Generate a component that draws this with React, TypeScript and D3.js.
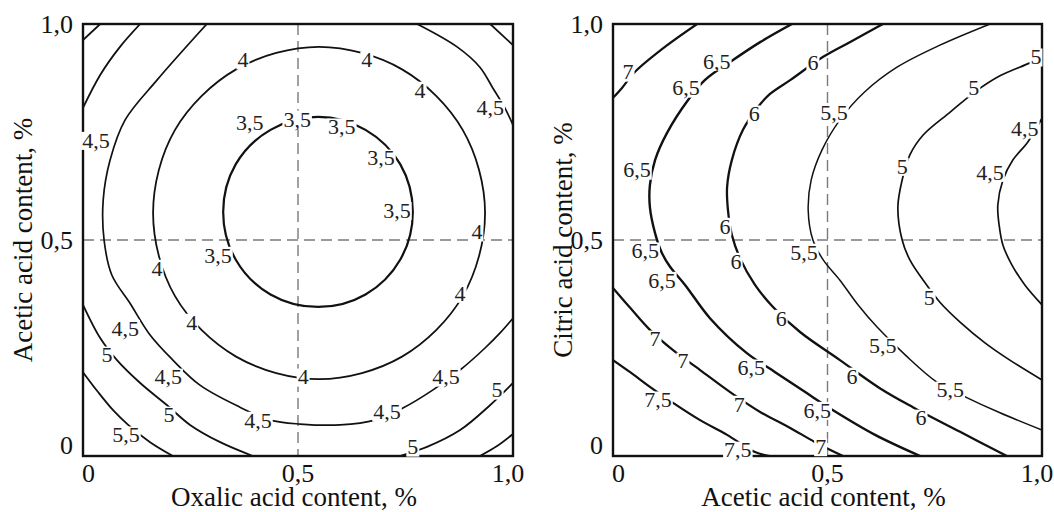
import React from "react";
import * as d3 from "d3";

type P = [number, number];
type Lab = [string, number, number];

// ---------- axes ----------
const tickValues = [0, 0.5, 1];
const tickText = ["0", "0,5", "1,0"];

const leftTitleX = "Oxalic acid content, %";
const leftTitleY = "Acetic acid content, %";
const rightTitleX = "Acetic acid content, %";
const rightTitleY = "Citric acid content, %";

// ---------- left panel contour lines (x = oxalic, y = acetic) ----------
const L35: P[] = [
  [0.767, 0.565], [0.738, 0.675], [0.657, 0.755], [0.547, 0.785], [0.436, 0.755],
  [0.355, 0.675], [0.326, 0.565], [0.355, 0.455], [0.436, 0.374], [0.547, 0.345],
  [0.657, 0.374], [0.738, 0.455],
];
const L40: P[] = [
  [0.935, 0.563], [0.883, 0.755], [0.742, 0.895], [0.549, 0.947], [0.356, 0.895],
  [0.214, 0.755], [0.163, 0.563], [0.214, 0.370], [0.356, 0.230], [0.549, 0.178],
  [0.742, 0.230], [0.883, 0.370],
];
const L45a: P[] = [
  [0.288, 1.0], [0.172, 0.870], [0.098, 0.778], [0.063, 0.685], [0.047, 0.593],
  [0.049, 0.500], [0.067, 0.419], [0.109, 0.354], [0.156, 0.280], [0.209, 0.222],
  [0.272, 0.164], [0.365, 0.113], [0.435, 0.083], [0.505, 0.074], [0.598, 0.072],
  [0.679, 0.083], [0.744, 0.111], [0.814, 0.153], [0.877, 0.199], [0.935, 0.250],
  [0.970, 0.285], [1.0, 0.319],
];
const L45b: P[] = [
  [0.777, 1.0], [0.870, 0.947], [0.923, 0.900], [0.953, 0.852], [0.981, 0.806], [1.0, 0.766],
];
const L50a: P[] = [[0, 0.806], [0.040, 0.882], [0.086, 0.947], [0.133, 1.0]];
const L50b: P[] = [
  [0, 0.350], [0.040, 0.273], [0.079, 0.222], [0.133, 0.169], [0.195, 0.118],
  [0.249, 0.072], [0.319, 0.032], [0.395, 0],
];
const L50c: P[] = [[0.737, 0], [0.800, 0.021], [0.877, 0.060], [0.947, 0.118], [1.0, 0.169]];
const L50d: P[] = [[0.947, 1.0], [1.0, 0.951]];
const L55a: P[] = [[0, 0.963], [0.040, 1.0]];
const L55b: P[] = [[0, 0.194], [0.035, 0.148], [0.070, 0.106], [0.105, 0.072], [0.156, 0.032], [0.209, 0]];
const L55c: P[] = [[0.923, 0], [0.963, 0.023], [1.0, 0.051]];

const leftLabels: Lab[] = [
  ["3,5", 0.388, 0.773], ["3,5", 0.498, 0.780], ["3,5", 0.602, 0.762], ["3,5", 0.693, 0.690],
  ["3,5", 0.730, 0.569], ["3,5", 0.314, 0.465],
  ["4", 0.372, 0.917], ["4", 0.660, 0.917], ["4", 0.784, 0.847], ["4", 0.916, 0.519],
  ["4", 0.877, 0.377], ["4", 0.512, 0.183], ["4", 0.253, 0.310], ["4", 0.172, 0.435],
  ["4,5", 0.030, 0.731], ["4,5", 0.947, 0.806], ["4,5", 0.098, 0.296], ["4,5", 0.198, 0.183],
  ["4,5", 0.407, 0.083], ["4,5", 0.707, 0.102], ["4,5", 0.844, 0.183],
  ["5", 0.056, 0.234], ["5", 0.200, 0.095], ["5", 0.767, 0.021], ["5", 0.963, 0.153],
  ["5,5", 0.100, 0.049],
];

// ---------- right panel contour lines (x = acetic, y = citric) ----------
const R75: P[] = [
  [0, 0.222], [0.040, 0.194], [0.086, 0.160], [0.140, 0.123], [0.203, 0.083],
  [0.266, 0.049], [0.331, 0.009], [0.366, 0],
];
const R70a: P[] = [
  [0, 0.389], [0.040, 0.343], [0.086, 0.292], [0.140, 0.245], [0.203, 0.199],
  [0.273, 0.148], [0.343, 0.102], [0.413, 0.065], [0.471, 0.032], [0.536, 0],
];
const R70b: P[] = [[0, 0.829], [0.021, 0.852], [0.051, 0.889], [0.121, 0.947], [0.196, 1.0]];
const R65: P[] = [
  [0.417, 1.0], [0.343, 0.958], [0.273, 0.912], [0.214, 0.870], [0.175, 0.824],
  [0.126, 0.748], [0.098, 0.685], [0.086, 0.627], [0.086, 0.576], [0.098, 0.516],
  [0.114, 0.470], [0.133, 0.438], [0.168, 0.396], [0.226, 0.319], [0.312, 0.238],
  [0.378, 0.194], [0.448, 0.148], [0.513, 0.106], [0.611, 0.049], [0.716, 0],
];
const R60: P[] = [
  [0.629, 1.0], [0.552, 0.958], [0.490, 0.924], [0.413, 0.870], [0.366, 0.838],
  [0.338, 0.808], [0.303, 0.755], [0.277, 0.685], [0.266, 0.623], [0.268, 0.569],
  [0.277, 0.512], [0.296, 0.458], [0.331, 0.396], [0.373, 0.345], [0.436, 0.287],
  [0.529, 0.222], [0.622, 0.157], [0.699, 0.113], [0.809, 0.056], [0.918, 0],
];
const R55: P[] = [
  [0.879, 1.0], [0.762, 0.951], [0.662, 0.900], [0.587, 0.843], [0.529, 0.778],
  [0.487, 0.708], [0.462, 0.639], [0.455, 0.569], [0.466, 0.500], [0.490, 0.454],
  [0.529, 0.407], [0.571, 0.350], [0.615, 0.299], [0.681, 0.234], [0.755, 0.171],
  [0.821, 0.137], [0.902, 0.100], [1.0, 0.060],
];
const R50: P[] = [
  [1.0, 0.924], [0.972, 0.910], [0.902, 0.880], [0.844, 0.843], [0.786, 0.796],
  [0.723, 0.743], [0.692, 0.697], [0.674, 0.639], [0.664, 0.576], [0.674, 0.500],
  [0.692, 0.454], [0.723, 0.407], [0.762, 0.356], [0.809, 0.310], [0.867, 0.262],
  [0.925, 0.222], [1.0, 0.176],
];
const R45: P[] = [
  [1.0, 0.782], [0.967, 0.727], [0.932, 0.685], [0.909, 0.639], [0.897, 0.581],
  [0.900, 0.535], [0.909, 0.488], [0.930, 0.442], [0.960, 0.396], [1.0, 0.350],
];

const rightLabels: Lab[] = [
  ["7", 0.035, 0.889], ["7", 0.098, 0.271], ["7", 0.163, 0.220], ["7", 0.294, 0.120], ["7", 0.484, 0.022],
  ["7,5", 0.105, 0.130], ["7,5", 0.291, 0.014],
  ["6,5", 0.242, 0.914], ["6,5", 0.170, 0.852], ["6,5", 0.056, 0.662], ["6,5", 0.075, 0.475],
  ["6,5", 0.114, 0.407], ["6,5", 0.322, 0.204], ["6,5", 0.476, 0.106],
  ["6", 0.466, 0.910], ["6", 0.329, 0.792], ["6", 0.261, 0.532], ["6", 0.287, 0.451],
  ["6", 0.392, 0.319], ["6", 0.557, 0.185], ["6", 0.718, 0.088],
  ["5,5", 0.515, 0.794], ["5,5", 0.445, 0.472], ["5,5", 0.629, 0.255], ["5,5", 0.786, 0.153],
  ["5", 0.986, 0.924], ["5", 0.841, 0.852], ["5", 0.674, 0.671], ["5", 0.737, 0.368],
  ["4,5", 0.960, 0.757], ["4,5", 0.879, 0.657],
];

type Seg = { pts: P[]; closed?: boolean; w: number };

const leftSegments: Seg[] = [
  { pts: L35, closed: true, w: 2.2 },
  { pts: L40, closed: true, w: 1.8 },
  { pts: L45a, w: 1.7 }, { pts: L45b, w: 1.7 },
  { pts: L50a, w: 1.8 }, { pts: L50b, w: 1.8 }, { pts: L50c, w: 1.8 }, { pts: L50d, w: 1.8 },
  { pts: L55a, w: 1.8 }, { pts: L55b, w: 1.8 }, { pts: L55c, w: 1.8 },
];
const rightSegments: Seg[] = [
  { pts: R75, w: 2.2 }, { pts: R70a, w: 2.2 }, { pts: R70b, w: 2.2 },
  { pts: R65, w: 2.4 }, { pts: R60, w: 2.3 }, { pts: R55, w: 1.5 },
  { pts: R50, w: 1.7 }, { pts: R45, w: 1.7 },
];

const FONT = "'Liberation Serif', 'Times New Roman', Times, serif";
const LABEL_FS = 22;
const TICK_FS = 26;
const TITLE_FS = 27;

function textW(s: string, fs: number) {
  let w = 0;
  for (const c of s) w += c === "," ? 0.25 : 0.5;
  return w * fs;
}

function Panel(props: {
  id: string;
  left: number;
  right: number;
  segments: Seg[];
  labels: Lab[];
  titleX: string;
  titleY: string;
  titleYx: number;
}) {
  const { id, left, right, segments, labels, titleX, titleY, titleYx } = props;
  const top = 24;
  const bottom = 456;
  const x = d3.scaleLinear().domain([0, 1]).range([left, right]);
  const y = d3.scaleLinear().domain([0, 1]).range([bottom, top]);
  const open = d3.line<P>().x((d) => x(d[0])).y((d) => y(d[1])).curve(d3.curveCatmullRom.alpha(0.5));
  const closed = d3.line<P>().x((d) => x(d[0])).y((d) => y(d[1])).curve(d3.curveCatmullRomClosed.alpha(0.5));
  return (
    <g>
      <defs>
        <clipPath id={id}>
          <rect x={left} y={top} width={right - left} height={bottom - top} />
        </clipPath>
      </defs>
      {/* dashed reference lines */}
      <line x1={x(0.5)} x2={x(0.5)} y1={top} y2={bottom} stroke="#7a7a7a" strokeWidth={1.4} strokeDasharray="11,6" />
      <line x1={left} x2={right} y1={y(0.5)} y2={y(0.5)} stroke="#7a7a7a" strokeWidth={1.4} strokeDasharray="11,6" />
      {/* contours */}
      <g clipPath={`url(#${id})`}>
        {segments.map((s, i) => (
          <path key={i} d={(s.closed ? closed : open)(s.pts) || ""} fill="none" stroke="#111" strokeWidth={s.w} />
        ))}
      </g>
      {/* frame */}
      <rect x={left} y={top} width={right - left} height={bottom - top} fill="none" stroke="#111" strokeWidth={2.4} />
      {/* contour labels */}
      {labels.map((l, i) => {
        const cx = x(l[1]);
        const cy = y(l[2]);
        const w = textW(l[0], LABEL_FS);
        return (
          <g key={i}>
            <rect x={cx - w / 2 - 1} y={cy - 0.38 * LABEL_FS} width={w + 2} height={0.82 * LABEL_FS} fill="#fff" />
            <text x={cx} y={cy + 0.34 * LABEL_FS} textAnchor="middle" fontSize={LABEL_FS} fontFamily={FONT} fill="#222">
              {l[0]}
            </text>
          </g>
        );
      })}
      {/* x tick labels */}
      {tickValues.map((v, i) => (
        <text
          key={"x" + i}
          x={i === 0 ? x(v) - 1 : i === 2 ? x(v) - 5 : x(v)}
          y={482}
          textAnchor={i === 0 ? "start" : "middle"}
          fontSize={TICK_FS}
          fontFamily={FONT}
          fill="#111"
        >
          {tickText[i]}
        </text>
      ))}
      {/* y tick labels */}
      {tickValues.map((v, i) => (
        <text
          key={"y" + i}
          x={left - 10}
          y={Math.min(y(v) + 9, 454)}
          textAnchor="end"
          fontSize={TICK_FS}
          fontFamily={FONT}
          fill="#111"
        >
          {tickText[i]}
        </text>
      ))}
      {/* titles */}
      <text x={(left + right) / 2 - 4} y={506} textAnchor="middle" fontSize={TITLE_FS} fontFamily={FONT} fill="#111">
        {titleX}
      </text>
      <text
        transform={`translate(${titleYx},${(top + bottom) / 2}) rotate(-90)`}
        textAnchor="middle"
        fontSize={TITLE_FS}
        fontFamily={FONT}
        fill="#111"
      >
        {titleY}
      </text>
    </g>
  );
}

export default function App() {
  return (
    <svg
      width={1054}
      height={512}
      style={{ position: "absolute", left: 0, top: 0, background: "#fff" }}
    >
      <rect width={1054} height={512} fill="#fff" />
      <Panel id="clipL" left={83} right={513} segments={leftSegments} labels={leftLabels} titleX={leftTitleX} titleY={leftTitleY} titleYx={32} />
      <Panel id="clipR" left={613} right={1042} segments={rightSegments} labels={rightLabels} titleX={rightTitleX} titleY={rightTitleY} titleYx={572} />
    </svg>
  );
}
